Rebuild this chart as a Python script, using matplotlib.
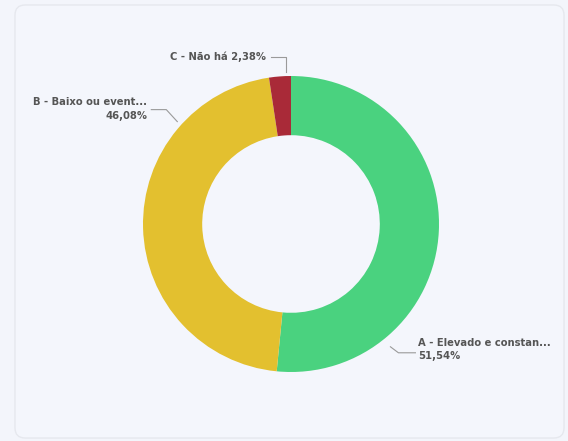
import numpy as np
import matplotlib
matplotlib.use("Agg")
import matplotlib.pyplot as plt
from matplotlib.patches import FancyBboxPatch

categories = ["A - Elevado e constan...", "B - Baixo ou event...", "C - Não há"]
values = [51.54, 46.08, 2.38]
pct_labels = ["51,54%", "46,08%", "2,38%"]
colors = ["#4ad27f", "#e3c02f", "#a92a38"]

W, H = 568, 441
fig = plt.figure(figsize=(W / 100, H / 100), dpi=100)
fig.patch.set_facecolor("#f3f5fb")

ax = fig.add_axes([0, 0, 1, 1])
ax.set_xlim(0, W)
ax.set_ylim(0, H)
ax.axis("off")

# panel
panel = FancyBboxPatch((15, 3), 549, 433, boxstyle="round,pad=0,rounding_size=10",
                       facecolor="#f4f6fc", edgecolor="#e6e8ee", linewidth=1.0,
                       transform=ax.transData, zorder=0)
ax.add_patch(panel)

cx, cy, R = 291, H - 224, 148
ax.pie(values, colors=colors, startangle=90, counterclock=False,
       center=(cx, cy), radius=R, frame=True,
       wedgeprops=dict(width=R * 0.4, edgecolor="none"))
ax.set_xlim(0, W)
ax.set_ylim(0, H)
ax.set_aspect("equal")
ax.axis("off")

txt_color = "#555555"
line_color = "#9a9a9a"
fs = 7.2

def pt(ang, r):
    a = np.deg2rad(ang)
    return cx + r * np.cos(a), cy + r * np.sin(a)

# A label (bottom right)
x0, y0 = pt(-51, 158)
ax.plot([x0, x0 + 8, x0 + 25], [y0, y0 - 6, y0 - 6], color=line_color, lw=0.8)
ax.text(x0 + 28, y0 - 1, categories[0], fontsize=fs, color=txt_color,
        fontweight="bold", ha="left", va="bottom")
ax.text(x0 + 28, y0 - 4, pct_labels[0], fontsize=fs, color=txt_color,
        fontweight="bold", ha="left", va="top")

# B label (upper left)
x0, y0 = pt(138, 153)
ax.plot([x0, x0 - 11, x0 - 26], [y0, y0 + 12, y0 + 12], color=line_color, lw=0.8)
ax.text(x0 - 30, y0 + 15, categories[1], fontsize=fs, color=txt_color,
        fontweight="bold", ha="right", va="bottom")
ax.text(x0 - 30, y0 + 11, pct_labels[1], fontsize=fs, color=txt_color,
        fontweight="bold", ha="right", va="top")

# C label (top)
x0, y0 = pt(92, 152)
ax.plot([x0, x0, x0 - 15], [y0, y0 + 15, y0 + 15], color=line_color, lw=0.8)
ax.text(x0 - 20, y0 + 15, f"{categories[2]} {pct_labels[2]}", fontsize=fs,
        color=txt_color, fontweight="bold", ha="right", va="center")

fig.savefig("out.png", dpi=100, facecolor=fig.get_facecolor())
